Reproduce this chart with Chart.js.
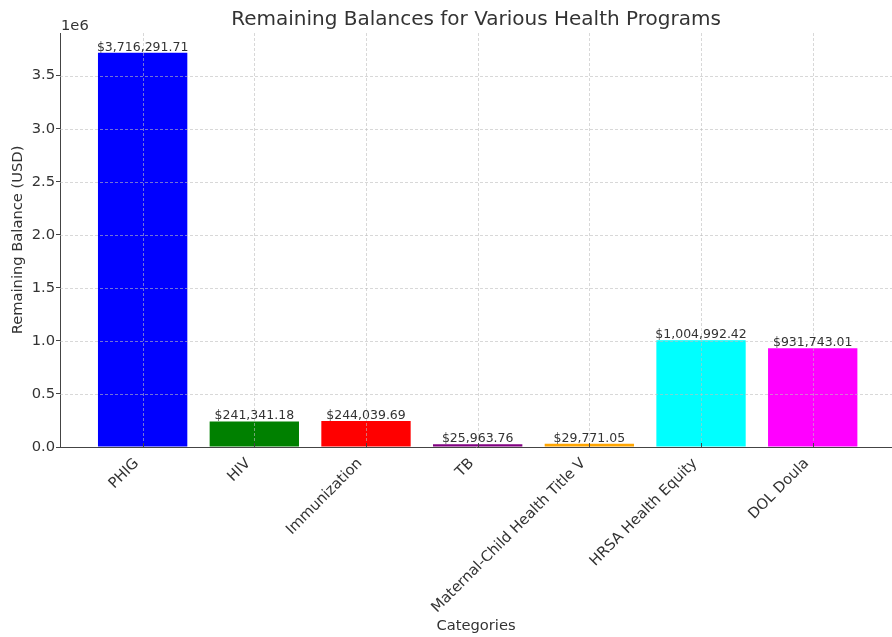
<!DOCTYPE html>
<html>
<head>
<meta charset="utf-8">
<script src="https://cdn.jsdelivr.net/npm/chart.js@4.4.1/dist/chart.umd.min.js"></script>
<style>
html,body{margin:0;padding:0;background:#fff;}
#wrap{width:892px;height:637px;position:relative;}
</style>
</head>
<body>
<div id="wrap"><canvas id="c" width="892" height="637"></canvas></div>
<script>
const chartTitle = "Remaining Balances for Various Health Programs";
const categories = ["PHIG", "HIV", "Immunization", "TB", "Maternal-Child Health Title V", "HRSA Health Equity", "DOL Doula"];
const balances = [3716291.71, 241341.18, 244039.69, 25963.76, 29771.05, 1004992.42, 931743.01];
const barColors = ["#0000ff", "#008000", "#ff0000", "#800080", "#ffa500", "#00ffff", "#ff00ff"];
const yTickValues = [0, 500000, 1000000, 1500000, 2000000, 2500000, 3000000, 3500000];

const FONT = "'DejaVu Sans', sans-serif";
const TXT = "#333333";
const yMax = Math.max(...balances) * 1.05;

const overlay = {
  id: 'overlay',
  afterDatasetsDraw(chart) {
    const ctx = chart.ctx, a = chart.chartArea;
    const xs = chart.scales.x, ys = chart.scales.y;
    ctx.save();
    ctx.strokeStyle = 'rgba(190,190,190,0.75)';
    ctx.lineWidth = 0.8;
    ctx.setLineDash([3, 2]);
    yTickValues.forEach(v => {
      if (v === 0) return;
      const p = Math.round(ys.getPixelForValue(v)) + 0.5;
      ctx.beginPath(); ctx.moveTo(a.left, p); ctx.lineTo(a.right, p); ctx.stroke();
    });
    categories.forEach((c, i) => {
      const p = Math.round(xs.getPixelForValue(i)) + 0.5;
      ctx.beginPath(); ctx.moveTo(p, a.top); ctx.lineTo(p, a.bottom); ctx.stroke();
    });
    ctx.setLineDash([]);
    ctx.strokeStyle = '#444';
    ctx.lineWidth = 1;
    categories.forEach((c, i) => {
      const p = Math.round(xs.getPixelForValue(i)) + 0.5;
      ctx.beginPath(); ctx.moveTo(p, a.bottom); ctx.lineTo(p, a.bottom - 4); ctx.stroke();
    });
    const meta = chart.getDatasetMeta(0);
    ctx.fillStyle = TXT;
    ctx.font = "12.5px " + FONT;
    ctx.textAlign = 'center';
    ctx.textBaseline = 'bottom';
    meta.data.forEach((bar, i) => {
      const s = '$' + balances[i].toLocaleString('en-US', {minimumFractionDigits: 2, maximumFractionDigits: 2});
      ctx.fillText(s, bar.x, bar.y + 1);
    });
    ctx.font = "14.7px " + FONT;
    ctx.textAlign = 'left';
    ctx.textBaseline = 'alphabetic';
    ctx.fillText('1e6', a.left + 1, a.top - 3);
    // title centred over the plot area
    ctx.font = "20px " + FONT;
    ctx.textAlign = 'center';
    ctx.textBaseline = 'middle';
    ctx.fillText(chartTitle, (a.left + a.right) / 2, 20);
    ctx.restore();
  }
};

new Chart(document.getElementById('c'), {
  type: 'bar',
  data: {
    datasets: [{
      data: balances.map((v, i) => ({x: i, y: v})),
      backgroundColor: barColors,
      borderWidth: 0,
      barPercentage: 0.8,
      categoryPercentage: 1.0
    }]
  },
  options: {
    responsive: false,
    animation: false,
    devicePixelRatio: 1,
    layout: {padding: {left: 0, right: 0, top: 33, bottom: 0}},
    plugins: {
      legend: {display: false},
      tooltip: {enabled: false},
      title: {display: false}
    },
    scales: {
      x: {
        type: 'linear',
        min: -0.74,
        max: 6.71,
        offset: false,
        afterBuildTicks(scale) { scale.ticks = categories.map((c, i) => ({value: i})); },
        afterFit(scale) { scale.height = 190; },
        grid: {display: false},
        border: {display: true, color: '#444', width: 1},
        ticks: {
          autoSkip: false,
          minRotation: 45,
          maxRotation: 45,
          padding: 0,
          labelOffset: -6,
          color: TXT,
          font: {family: FONT, size: 14.7},
          callback: (v) => categories[v]
        },
        title: {
          display: true,
          text: 'Categories',
          color: TXT,
          font: {family: FONT, size: 14.7},
          padding: {top: 0, bottom: 2}
        }
      },
      y: {
        min: 0,
        max: yMax,
        afterBuildTicks(scale) { scale.ticks = yTickValues.map(v => ({value: v})); },
        afterFit(scale) { scale.width = 60; },
        grid: {display: true, drawOnChartArea: false, drawTicks: true, tickLength: 4, color: '#444'},
        border: {display: true, color: '#444', width: 1},
        ticks: {
          padding: 1,
          color: TXT,
          font: {family: FONT, size: 14.7},
          callback: (v) => (v / 1e6).toFixed(1)
        },
        title: {
          display: true,
          text: 'Remaining Balance (USD)',
          color: TXT,
          font: {family: FONT, size: 14.7},
          padding: {top: 9, bottom: 0}
        }
      }
    }
  },
  plugins: [overlay]
});
</script>
</body>
</html>
